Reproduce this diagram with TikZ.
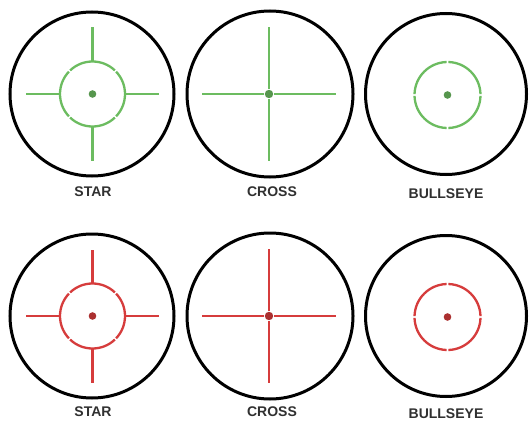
\documentclass[tikz,border=0pt]{standalone}
\usepackage{fontspec}
\setmainfont{Liberation Sans}
\definecolor{retgreen}{RGB}{108,188,96}
\definecolor{retred}{RGB}{214,60,60}
\definecolor{labelgray}{RGB}{48,48,48}
\begin{document}
\begin{tikzpicture}[x=1pt,y=-1pt,
  ring/.style={draw=black,line width=3pt},
  arm/.style={line width=2.3pt},
  lab/.style={font=\bfseries\fontsize{14}{15}\selectfont,text=labelgray,inner sep=0pt}]
\useasboundingbox (0,0) rectangle (529,422);
\fill[white] (0,0) rectangle (529,422);
\foreach \row/\cy/\ly/\col in {1/94/192/retgreen,2/316/412/retred}{
  % STAR
  \draw[ring] (92,\cy) circle[radius=82pt];
  \foreach \a in {45,135,225,315}
    \draw[arm,\col] (92.5,\cy) ++(\a+1.5:32.5pt) arc[start angle=\a+1.5,end angle=\a+88.5,radius=32.5pt];
  \draw[arm,\col] (92.5,\cy) ++(32.5pt,0pt) -- ++(34pt,0pt);
  \draw[arm,\col] (92.5,\cy) ++(-32.5pt,0pt) -- ++(-34pt,0pt);
  \draw[arm,\col] (92.5,\cy) ++(0pt,32.5pt) -- ++(0pt,34pt);
  \draw[arm,\col] (92.5,\cy) ++(0pt,-32.5pt) -- ++(0pt,-34pt);
  \fill[\col!80!black] (92.5,\cy) circle[radius=3.8pt];
  \node[lab] (star\row) at (93,\ly) {STAR};
  % CROSS
  \draw[ring] (270,\cy) circle[radius=83pt];
  \draw[arm,\col] (269,\cy) ++(5pt,0pt) -- ++(62pt,0pt);
  \draw[arm,\col] (269,\cy) ++(-5pt,0pt) -- ++(-62pt,0pt);
  \draw[arm,\col] (269,\cy) ++(0pt,5pt) -- ++(0pt,62pt);
  \draw[arm,\col] (269,\cy) ++(0pt,-5pt) -- ++(0pt,-62pt);
  \fill[\col!80!black] (269,\cy) circle[radius=4.2pt];
  \node[lab] (cross\row) at (272,\ly) {CROSS};
  % BULLSEYE
  \draw[ring] (446,\cy) circle[radius=80.5pt];
  \foreach \a in {0,90,180,270}
    \draw[arm,\col] (447.5,\cy+1) ++(\a+1.5:33pt) arc[start angle=\a+1.5,end angle=\a+88.5,radius=33pt];
  \fill[\col!80!black] (447.5,\cy+1) circle[radius=3.8pt];
  \node[lab] (bull\row) at (446,\ly+1.5) {BULLSEYE};
}
\end{tikzpicture}
\end{document}
